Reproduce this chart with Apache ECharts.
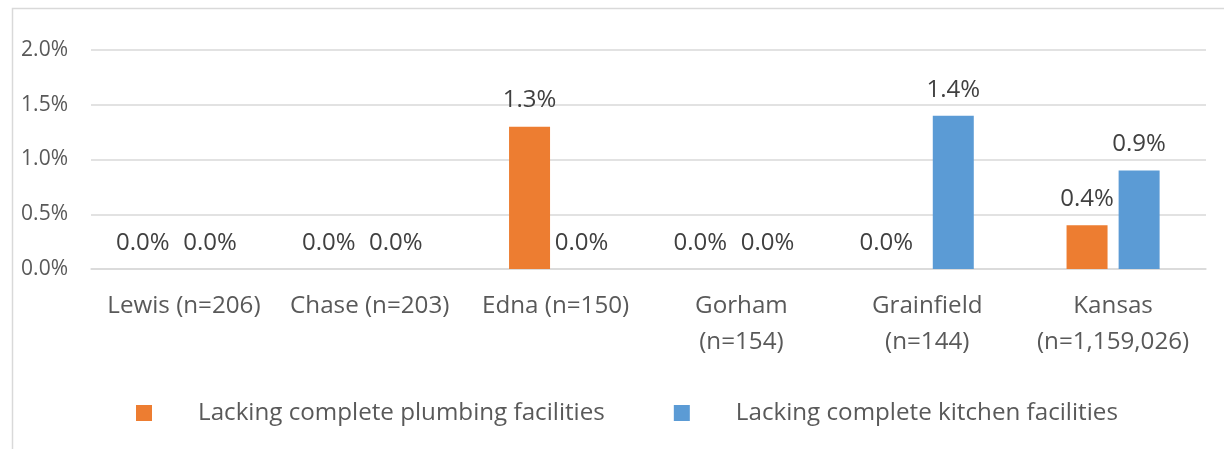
<!DOCTYPE html>
<html>
<head>
<meta charset="utf-8">
<script src="https://cdn.jsdelivr.net/npm/echarts@6/dist/echarts.min.js"></script>
<style>
html,body{margin:0;padding:0;background:#fff;}
#chart{width:1224px;height:449px;}
</style>
</head>
<body>
<div id="chart"></div>
<script>
const categories = ['Lewis (n=206)', 'Chase (n=203)', 'Edna (n=150)', 'Gorham\n(n=154)', 'Grainfield\n(n=144)', 'Kansas\n(n=1,159,026)'];
const plumbing = [0.0, 0.0, 1.3, 0.0, 0.0, 0.4];
const kitchen = [0.0, 0.0, 0.0, 0.0, 1.4, 0.9];
const seriesNames = ['Lacking complete plumbing facilities', 'Lacking complete kitchen facilities'];
const yTicks = { min: 0, max: 2, interval: 0.5 };

const FONT = 'Open Sans';
const chart = echarts.init(document.getElementById('chart'));

const labelStyle = {
  show: true,
  position: 'top',
  distance: 14,
  fontFamily: FONT,
  fontSize: 24,
  color: '#404040',
  formatter: p => Number(p.value).toFixed(1) + '%'
};

chart.setOption({
  animation: false,
  textStyle: { fontFamily: FONT },
  graphic: [{
    type: 'rect',
    shape: { x: 12.5, y: 8.5, width: 1300, height: 500 },
    style: { fill: 'none', stroke: '#d9d9d9', lineWidth: 1.5 },
    silent: true
  }],
  grid: { left: 91, right: 18, top: 50, bottom: 180, containLabel: false },
  legend: {
    data: seriesNames,
    top: 401,
    left: 131,
    padding: [0, 5, 0, 5],
    itemWidth: 16,
    itemHeight: 16,
    itemGap: 69,
    icon: 'rect',
    textStyle: { fontFamily: FONT, fontSize: 24.2, lineHeight: 24, color: '#595959', padding: [0, 0, 0, 41] }
  },
  xAxis: {
    type: 'category',
    data: categories,
    axisLine: { lineStyle: { color: '#d9d9d9', width: 1.5 } },
    axisTick: { show: false },
    axisLabel: {
      interval: 0,
      margin: 19,
      fontFamily: FONT,
      fontSize: 24.2,
      lineHeight: 36,
      color: '#595959'
    }
  },
  yAxis: {
    type: 'value',
    min: yTicks.min,
    max: yTicks.max,
    interval: yTicks.interval,
    axisLine: { show: false },
    axisTick: { show: false },
    splitLine: { lineStyle: { color: '#d9d9d9', width: 1.5 } },
    axisLabel: {
      margin: 23,
      fontFamily: FONT,
      fontSize: 21,
      color: '#595959',
      formatter: v => v.toFixed(1) + '%'
    }
  },
  series: [
    {
      name: seriesNames[0],
      type: 'bar',
      data: plumbing.map(v => v === 0 ? { value: v, label: { offset: [-15, 0] } } : v),
      barWidth: 41,
      barGap: '27%',
      itemStyle: { color: '#ED7D31' },
      label: labelStyle
    },
    {
      name: seriesNames[1],
      type: 'bar',
      data: kitchen,
      barWidth: 41,
      barGap: '27%',
      itemStyle: { color: '#5B9BD5' },
      label: labelStyle
    }
  ]
});
</script>
</body>
</html>
